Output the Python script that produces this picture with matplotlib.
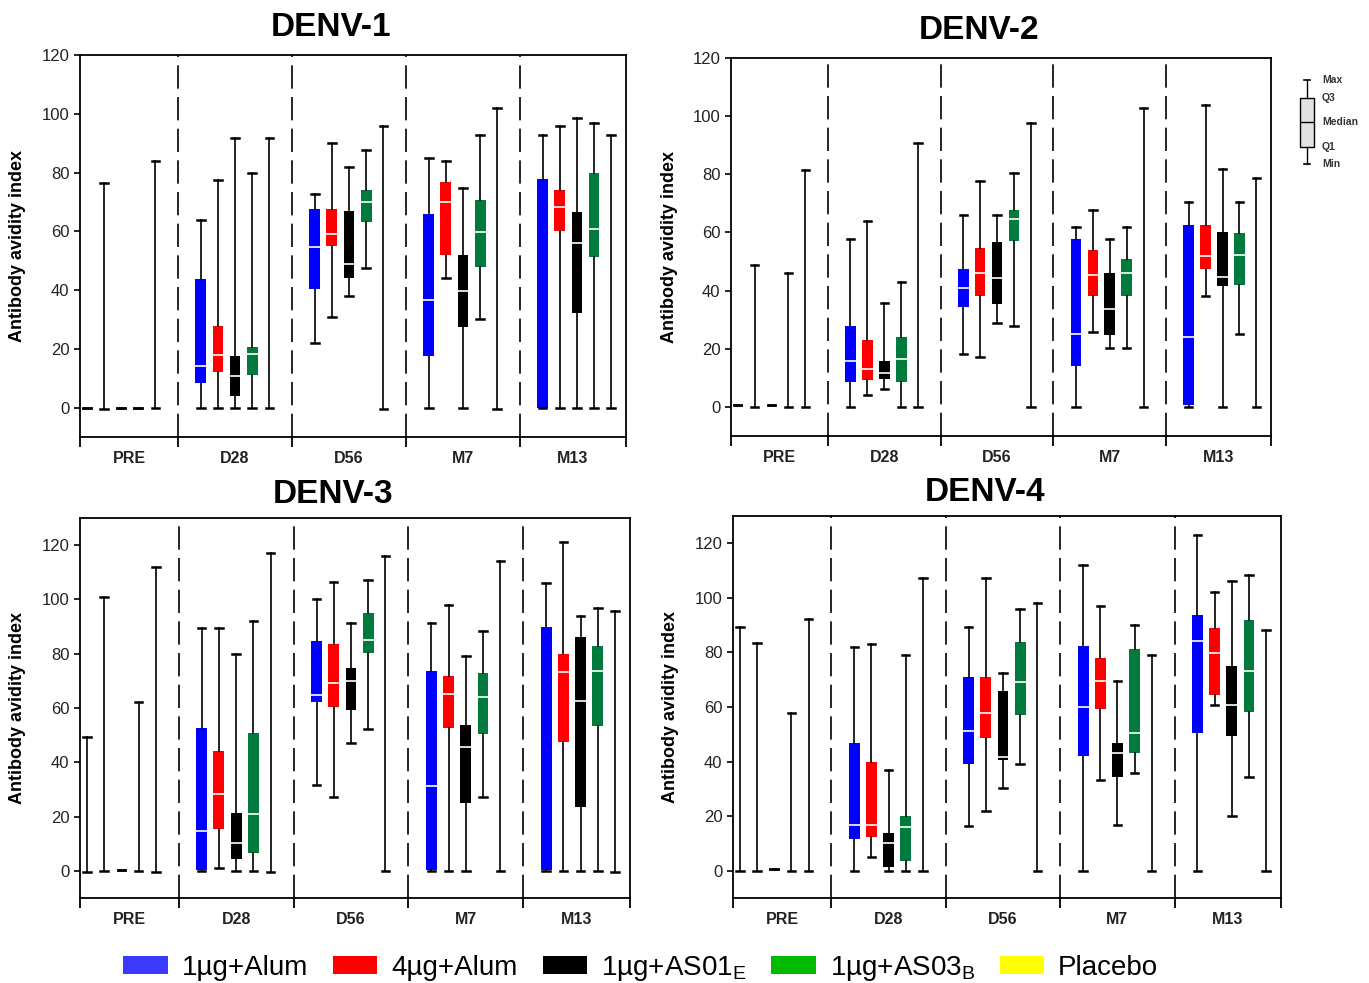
import numpy as np
import matplotlib
matplotlib.use("Agg")
import matplotlib.pyplot as plt
from matplotlib.patches import Patch

plt.rcParams['font.family'] = ['Liberation Sans', 'DejaVu Sans']

nan = np.nan

timepoints = ["PRE", "D28", "D56", "M7", "M13"]
groups = ["1µg+Alum", "4µg+Alum", "1µg+AS01$_\\mathregular{E}$",
          "1µg+AS03$_\\mathregular{B}$", "Placebo"]
box_colors = ["#0000ff", "#ff0000", "#000000", "#007a3d", "#ffff00"]
legend_colors = ["#3a3aff", "#ff0000", "#000000", "#00bb00", "#ffff00"]

# rows = timepoints, columns = groups; nan = no box / no median visible
d1_min = [[0, -0.5, 0, 0, 0], [0, 0, 0, 0, 0], [22, 31, 38, 47.5, -0.5],
          [0, 44, 0, 30, -0.5], [0, 0, 0, 0, 0]]
d1_q1 = [[nan] * 5, [8.4, 12, 4.1, 11.1, nan], [40.2, 54.9, 44.1, 63.1, nan],
         [17.4, 52, 27.4, 47.7, nan], [0, 60.1, 32.2, 51.1, nan]]
d1_med = [[nan] * 5, [14.3, 18, 10.9, 18.3, nan], [54.7, 59.2, 49, 70, nan],
          [36.7, 69.9, 39.7, 59.9, nan], [nan, 68.3, 55.9, 60.8, nan]]
d1_q3 = [[nan] * 5, [43.9, 27.7, 17.7, 20.6, nan], [67.7, 67.7, 66.8, 73.9, nan],
         [65.8, 76.7, 52, 70.5, nan], [77.7, 73.9, 66.7, 79.7, nan]]
d1_max = [[0, 76.6, 0, 0, 83.8], [63.8, 77.6, 91.8, 79.9, 91.8],
          [72.8, 89.9, 81.9, 87.6, 95.7], [84.8, 83.8, 74.8, 92.8, 101.8],
          [92.8, 95.8, 98.5, 96.7, 92.8]]

d2_min = [[0.5, 0, 0.5, 0, 0], [0, 4.2, 6.2, 0, 0], [18.2, 17.3, 28.7, 27.9, 0],
          [0, 25.8, 20.2, 20.2, 0], [0, 38, 0, 25, 0]]
d2_q1 = [[nan] * 5, [8.5, 9.3, 9.5, 8.5, nan], [34.5, 38.2, 35.3, 57.1, nan],
         [14.2, 38.2, 24.8, 38.2, nan], [0.5, 47.4, 41.6, 42, nan]]
d2_med = [[nan] * 5, [15.8, 13, 11.6, 16.4, nan], [40.8, 46, 44.3, 64.7, nan],
          [25, 45.3, 33.6, 46, nan], [24.1, 52, 44.6, 52.3, nan]]
d2_q3 = [[nan] * 5, [27.9, 23.1, 15.9, 24.2, nan], [47.6, 54.8, 56.8, 67.8, nan],
         [57.7, 53.8, 46, 50.9, nan], [62.4, 62.4, 60, 59.8, nan]]
d2_max = [[0.5, 48.9, 0.5, 46, 81.6], [57.7, 63.8, 35.9, 42.8, 90.7],
          [66, 77.8, 66, 80.6, 97.5], [61.8, 67.8, 57.7, 61.8, 102.8],
          [70.6, 103.7, 81.8, 70.6, 78.9]]

d3_min = [[-0.6, 0, 0.5, 0, -0.6], [0, 1.1, 0, 0, -0.6], [31.5, 27.2, 47.1, 52.3, 0],
          [0, 0, 0, 27.2, 0], [0, 0, 0, 0, -0.6]]
d3_q1 = [[nan] * 5, [0.5, 15.6, 4.5, 6.4, nan], [62.3, 60.2, 59.4, 80.3, nan],
         [0.5, 52.5, 25, 50.4, nan], [0.5, 47.4, 23.5, 53.5, nan]]
d3_med = [[nan] * 5, [14.7, 28.2, 10.2, 20.9, nan], [64.8, 69.2, 70, 85.1, nan],
          [31.2, 65.1, 45.5, 64.2, nan], [nan, 73.3, 62.7, 73.7, nan]]
d3_q3 = [[nan] * 5, [52.8, 44.2, 21.2, 50.8, nan], [84.6, 83.6, 74.9, 94.9, nan],
         [73.8, 71.9, 53.8, 72.9, nan], [89.7, 80, 86.2, 82.8, nan]]
d3_max = [[49.2, 101, 0.5, 62.2, 111.8], [89.3, 89.3, 80, 92.2, 117.2],
          [100, 106.3, 91.2, 107.3, 116], [91.3, 97.8, 79, 88.2, 114],
          [106.2, 121, 93.9, 97, 95.9]]

d4_min = [[0, 0, 0.5, 0, 0], [0, 5.1, 0, 0, 0], [16.4, 22, 30.2, 39, 0],
          [0, 33.3, 16.8, 35.8, 0], [0, 60.9, 20.1, 34.3, 0]]
d4_q1 = [[nan] * 5, [11.5, 12.5, 1.5, 3.6, nan], [39.2, 48.6, 40.4, 57.2, nan],
         [42.2, 59.4, 34.2, 43.3, nan], [50.4, 64.3, 49.5, 58.2, nan]]
d4_med = [[nan] * 5, [16.8, 16.8, 10, 16.2, nan], [51.3, 57.8, 41.6, 69.2, nan],
          [60, 69.4, 43.1, 50.4, nan], [84.1, 79.8, 60.9, 73.1, nan]]
d4_q3 = [[nan] * 5, [46.8, 40, 14, 20.1, nan], [70.9, 70.9, 65.8, 83.8, nan],
         [82.2, 78, 46.8, 81.1, nan], [93.9, 88.8, 74.9, 91.8, nan]]
d4_max = [[89.3, 83.3, 0.5, 57.8, 92.3], [81.9, 83.1, 37, 79.2, 107.3],
          [89.4, 107.3, 72.4, 96, 98], [111.9, 97, 69.4, 90.2, 79.1],
          [123, 102.1, 106.3, 108.3, 88.2]]

key_names = ["Min", "Q1", "Median", "Q3", "Max"]
key_values = [0, 17, 42, 66, 84]

offsets = [-0.3, -0.15, 0.0, 0.15, 0.3]
xlo, xhi = -0.36, 4.43
bounds = [0.5, 1.5, 2.5, 3.5]
centers = [(xlo + 0.5) / 2, 1, 2, 3, (3.5 + xhi) / 2]


def draw_panel(ax, title, lo, q1, med, q3, hi, ytop, tpad):
    for t in range(len(timepoints)):
        stats = []
        for g in range(len(groups)):
            a = lo[t][g]
            b = a if np.isnan(q1[t][g]) else q1[t][g]
            c = b if np.isnan(q3[t][g]) else q3[t][g]
            stats.append(dict(whislo=a, q1=b, med=med[t][g], q3=c,
                              whishi=hi[t][g], fliers=[]))
        art = ax.bxp(stats, positions=[t + o for o in offsets], widths=0.095,
                     capwidths=0.065, patch_artist=True, showfliers=False,
                     manage_ticks=False,
                     boxprops=dict(linewidth=0),
                     whiskerprops=dict(color='black', linewidth=1.2),
                     capprops=dict(color='black', linewidth=1.8, zorder=2.3),
                     medianprops=dict(color='white', linewidth=1.2))
        for g, box in enumerate(art['boxes']):
            box.set_facecolor(box_colors[g])
            if np.isnan(q1[t][g]):
                box.set_visible(False)

    for b in bounds:
        ax.axvline(b, color='black', linewidth=1.2, linestyle=(0, (14, 5)), zorder=1)

    ax.set_xlim(xlo, xhi)
    ax.set_ylim(-10, ytop)
    ax.set_yticks(np.arange(0, 121, 20))
    ax.set_xticks([xlo] + bounds + [xhi])
    ax.set_xticklabels([])
    ax.set_xticks(centers, minor=True)
    ax.set_xticklabels(timepoints, minor=True, fontsize=11.5, fontweight='bold',
                       color='#222222')
    ax.tick_params(axis='x', which='major', direction='out', length=7, width=1.3)
    ax.tick_params(axis='x', which='minor', length=0, pad=10)
    ax.tick_params(axis='y', direction='out', length=4, width=1.2, labelsize=12,
                   labelcolor='#222222')
    for s in ax.spines.values():
        s.set_linewidth(1.3)
    ax.set_ylabel('Antibody avidity index', fontsize=13, fontweight='bold')
    ax.yaxis.set_label_coords(-0.098, 0.5)
    ax.set_title(title, fontsize=24, fontweight='bold', x=0.46, pad=tpad)


fig = plt.figure(figsize=(13.69, 9.83), dpi=100)
W, H = 1369.0, 983.0


def px_axes(l, t, r, b):
    return fig.add_axes([l / W, 1 - b / H, (r - l) / W, (b - t) / H])


ax1 = px_axes(80, 55, 626, 437)
ax2 = px_axes(731, 58, 1271, 436)
ax3 = px_axes(80, 518, 630, 898)
ax4 = px_axes(733, 516, 1281, 898)

draw_panel(ax1, "DENV-1", d1_min, d1_q1, d1_med, d1_q3, d1_max, 120, 14)
draw_panel(ax2, "DENV-2", d2_min, d2_q1, d2_med, d2_q3, d2_max, 120, 14)
draw_panel(ax3, "DENV-3", d3_min, d3_q1, d3_med, d3_q3, d3_max, 130, 11)
draw_panel(ax4, "DENV-4", d4_min, d4_q1, d4_med, d4_q3, d4_max, 130, 11)

# box plot key
axk = px_axes(1292, 72, 1322, 172)
kart = axk.bxp([dict(whislo=key_values[0], q1=key_values[1], med=key_values[2],
                     q3=key_values[3], whishi=key_values[4], fliers=[])],
               positions=[0], widths=0.93, capwidths=0.4, patch_artist=True,
               showfliers=False, manage_ticks=False,
               boxprops=dict(facecolor='#e2e2e2', edgecolor='black', linewidth=1),
               whiskerprops=dict(color='black', linewidth=1),
               capprops=dict(color='black', linewidth=1.2),
               medianprops=dict(color='black', linewidth=1))
axk.set_xlim(-1, 1)
axk.set_ylim(-8, 92)
axk.axis('off')
for name, v in zip(key_names, key_values):
    axk.text(1.0, v, name, transform=axk.get_yaxis_transform(), fontsize=7.5,
             fontweight='bold', color='#333333', va='center', ha='left')

handles = [Patch(facecolor=c, edgecolor='none') for c in legend_colors]
fig.legend(handles, groups, loc='center', bbox_to_anchor=(0.468, 0.015), ncol=5,
           frameon=False, fontsize=20, handlelength=1.6, handleheight=0.6,
           handletextpad=0.5, columnspacing=0.9)

fig.savefig('out.png', dpi=100)
